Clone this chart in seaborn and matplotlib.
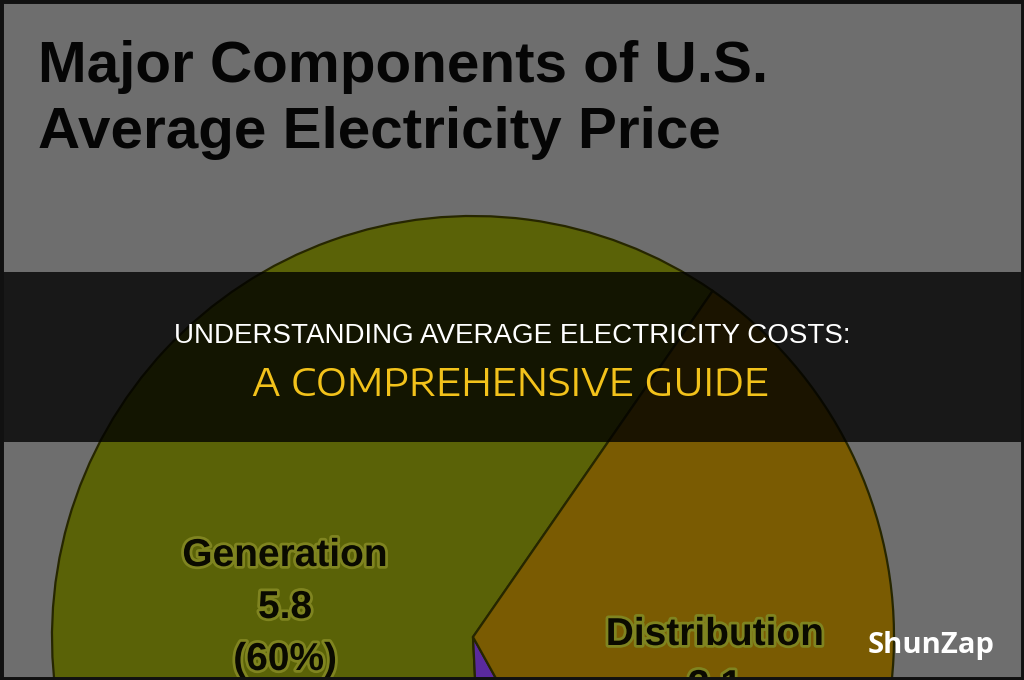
import matplotlib
matplotlib.use("Agg")
import matplotlib.pyplot as plt
import matplotlib.patheffects as pe
import seaborn as sns

# ---- data ----
components = ["Generation", "Transmission", "Distribution"]
cents_per_kwh = [5.8, 0.7, 3.1]
shares_pct = [60, 7, 32]
title_lines = ["Major Components of U.S.", "Average Electricity Price"]
banner_line1 = "UNDERSTANDING AVERAGE ELECTRICITY COSTS:"
banner_line2 = "A COMPREHENSIVE GUIDE"
brand = "ShunZap"

sns.set_theme(style="white")
SANS = ["Liberation Sans", "DejaVu Sans"]
plt.rcParams["font.family"] = SANS

W, H = 1024, 680
fig = plt.figure(figsize=(W / 100, H / 100), dpi=100)
fig.patch.set_facecolor("#6e6e6e")
ax = fig.add_axes([0, 0, 1, 1])
ax.set_facecolor("#6e6e6e")

colors = ["#5a6207", "#5a2a9e", "#7a5b02"]
cx, cy, R = 473, H - 637, 421
wedges, _ = ax.pie(cents_per_kwh, colors=colors, startangle=55.3, counterclock=True,
                   center=(cx, cy), radius=R, frame=True,
                   wedgeprops=dict(edgecolor="#262600", linewidth=1.6))
ax.set_xlim(0, W)
ax.set_ylim(0, H)
ax.set_aspect("equal")
ax.set_axis_off()

# title
for i, line in enumerate(title_lines):
    ax.text(38, H - 82 - i * 66, line, fontsize=42, fontweight="bold", color="#050505",
            ha="left", va="baseline", family=SANS)

# slice labels
glow = [pe.withStroke(linewidth=4, foreground="#7f8420")]
label_pos = {"Generation": (285, H - 566), "Distribution": (715, H - 645)}
for name, val, pct in zip(components, cents_per_kwh, shares_pct):
    if name not in label_pos:
        continue
    x, y = label_pos[name]
    for j, s in enumerate([name, f"{val}", f"({pct}%)"]):
        t = ax.text(x, y - j * 52, s, fontsize=28, fontweight="bold", color="#0a0a00",
                    ha="center", va="baseline", family=SANS)
        t.set_path_effects(glow)

# banner
ax.add_patch(plt.Rectangle((0, H - 442), W, 170, facecolor="black", alpha=0.78,
                           edgecolor="none", zorder=5))
ax.text(512, H - 343, banner_line1, fontsize=20, color="white", ha="center", va="baseline",
        zorder=6, family=SANS)
ax.text(511, H - 396, banner_line2, fontsize=27, color="#f2c21b", ha="center", va="baseline",
        zorder=6, family=["Encode Sans Expanded", "DejaVu Sans"])

# brand
ax.text(931, H - 653, brand, fontsize=21, fontweight="bold", color="white", ha="center",
        va="baseline", zorder=6, family=["Open Sans", "DejaVu Sans"])

# dark frame
ax.add_patch(plt.Rectangle((0, 0), W, H, facecolor="none", edgecolor="#111111",
                           linewidth=5, zorder=7))

fig.savefig("out.png", dpi=100, facecolor=fig.get_facecolor())
